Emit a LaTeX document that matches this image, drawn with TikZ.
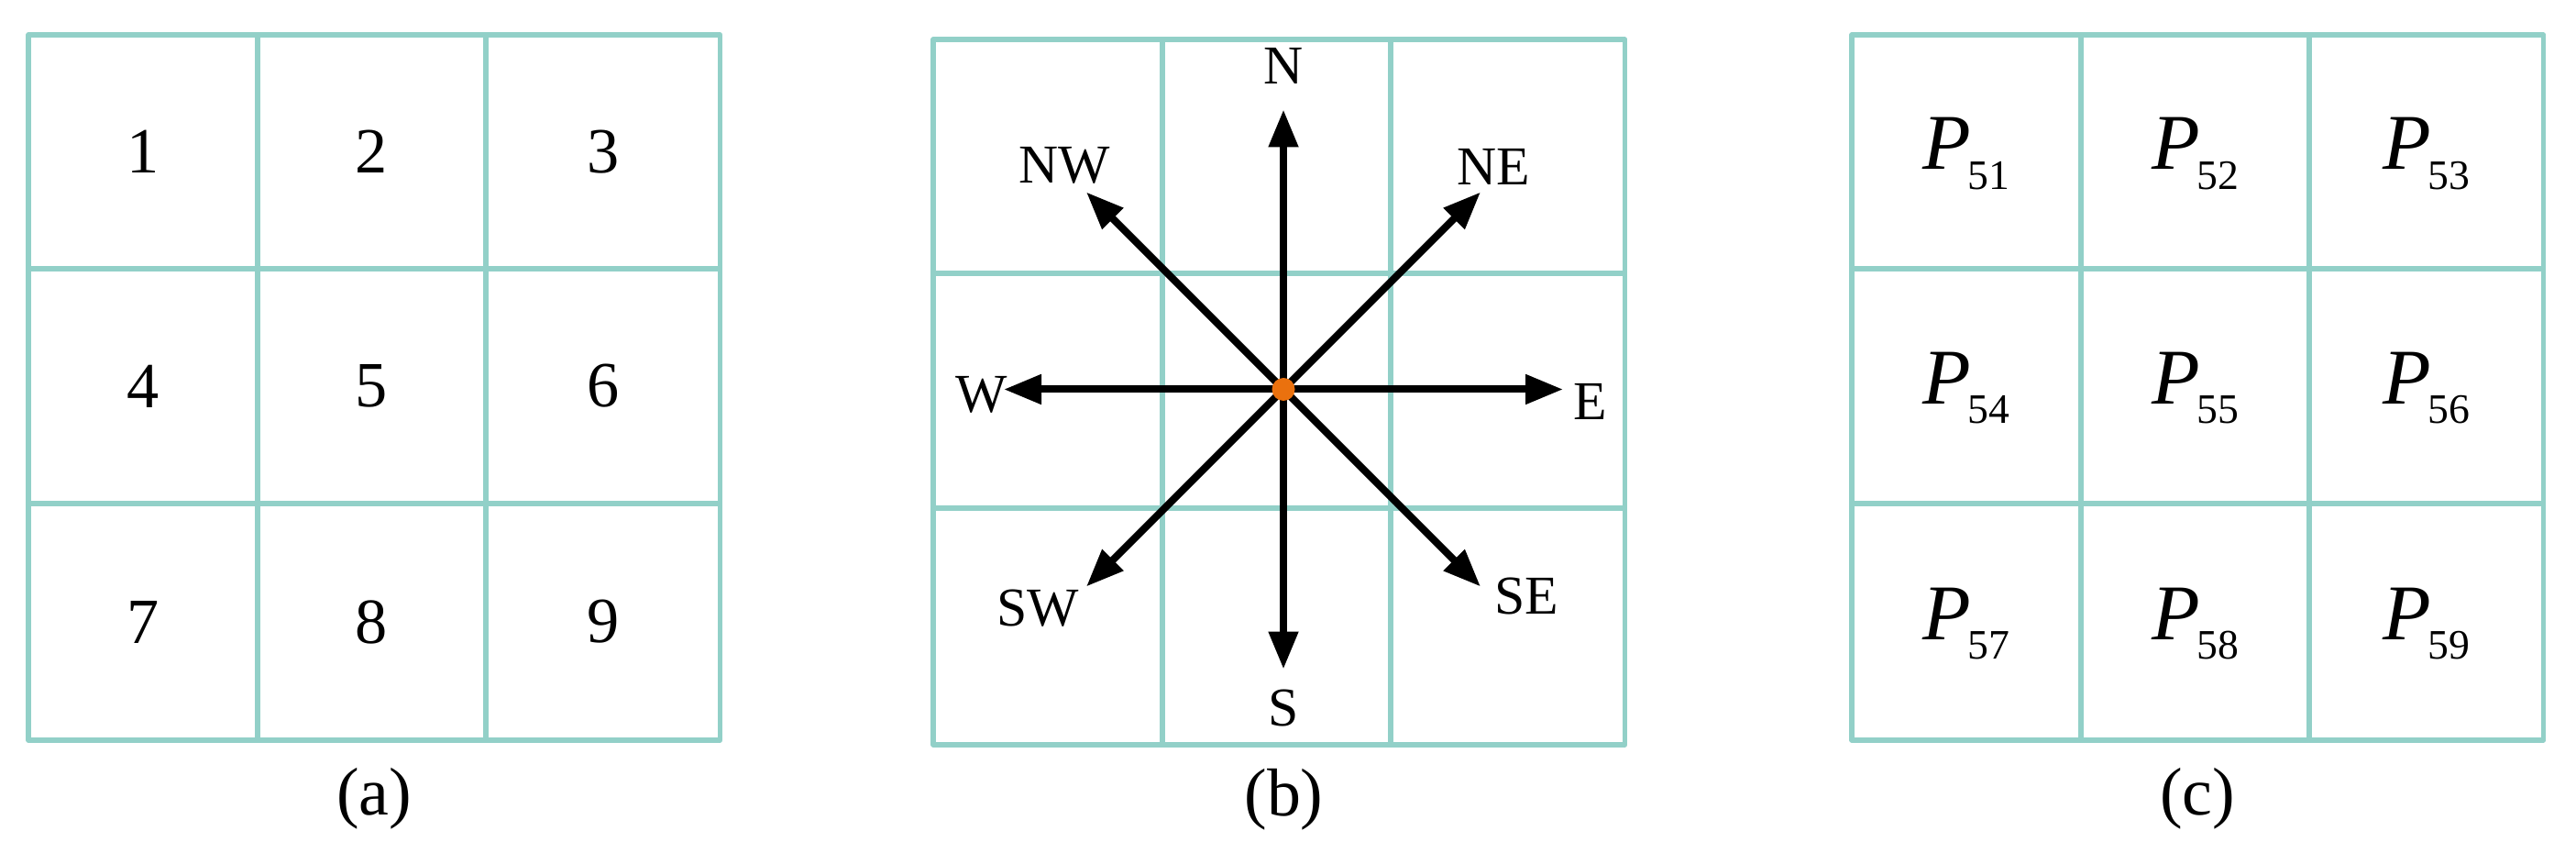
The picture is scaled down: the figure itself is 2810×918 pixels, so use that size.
\documentclass[tikz,border=0pt]{standalone}
\usepackage{fontspec}
\setmainfont{Liberation Serif}
\usetikzlibrary{arrows.meta}
\definecolor{gridc}{RGB}{146,208,200}
\definecolor{dotc}{RGB}{234,113,14}
\newcommand\gridat[2]{%
  \draw[gridline] (#1,#2) rectangle ++(754.5,769);
  \draw[gridline] (#1+250,#2) -- ++(0,769);
  \draw[gridline] (#1+499,#2) -- ++(0,769);
  \draw[gridline] (#1,#2+255) -- ++(754.5,0);
  \draw[gridline] (#1,#2+511) -- ++(754.5,0);
}
\begin{document}
\begin{tikzpicture}[x=0.1mm,y=-0.1mm,
  gridline/.style={draw=gridc,line width=0.55mm,line join=round},
  num/.style={font=\fontsize{20}{24}\selectfont,inner sep=0pt},
  capt/.style={font=\fontsize{21}{25}\selectfont,inner sep=0pt},
  dirlab/.style={font=\fontsize{17}{20}\selectfont,inner sep=0pt},
  pnode/.style={inner sep=0pt},
  arr/.style={line width=0.8mm,-{Triangle[length=4.1mm,width=3.1mm]}},
  dot/.style={circle,fill=dotc,minimum size=2.5mm,inner sep=0pt}]
\useasboundingbox (0,0) rectangle (2810,918);

% ---------- grids ----------
\gridat{31}{38}
\gridat{1018}{43}
\gridat{2020}{38}

% ---------- (a) ----------
\foreach \i/\cx/\cy in {1/125/127.5,2/374.5/127.5,3/626.75/127.5,
                        4/125/383,5/374.5/383,6/626.75/383,
                        7/125/640,8/374.5/640,9/626.75/640}
  \node[num] (a\i) at (31+\cx,38+\cy) {\i};
\node[capt] (capa) at (408,871) {(a)};

% ---------- (b) ----------
\coordinate (o) at (1400,424.5);
\coordinate (tN) at (1400,119.5);
\coordinate (tS) at (1400,729.5);
\coordinate (tE) at (1705,424.5);
\coordinate (tW) at (1095,424.5);
\coordinate (tNE) at (1615,209.5);
\coordinate (tNW) at (1185,209.5);
\coordinate (tSE) at (1615,639.5);
\coordinate (tSW) at (1185,639.5);
\foreach \t in {tN,tS,tE,tW,tNE,tNW,tSE,tSW}
  \draw[arr] (o) -- (\t);
\node[dot] (c) at (o) {};
\node[dirlab] (lN) at (1400,72) {N};
\node[dirlab] (lS) at (1400,772.5) {S};
\node[dirlab] (lE) at (1735,437.5) {E};
\node[dirlab] (lW) at (1071,430.5) {W};
\node[dirlab] (lNE) at (1629,182) {NE};
\node[dirlab] (lNW) at (1161,180) {NW};
\node[dirlab] (lSE) at (1665.5,650) {SE};
\node[dirlab] (lSW) at (1132,663) {SW};
\node[capt] (capb) at (1400.5,872) {(b)};

% ---------- (c) ----------
\foreach \i/\cx/\cy in {1/125/127.5,2/374.5/127.5,3/626.75/127.5,
                        4/125/383,5/374.5/383,6/626.75/383,
                        7/125/640,8/374.5/640,9/626.75/640}
  \node[pnode] (p\i) at (2020+\cx,38+\cy+2)
    {{\fontsize{24.5}{28}\selectfont\itshape P}\kern-1pt\raisebox{-6pt}{\fontsize{13}{15}\selectfont 5\i}};
\node[capt] (capc) at (2397,871) {(c)};
\end{tikzpicture}
\end{document}
